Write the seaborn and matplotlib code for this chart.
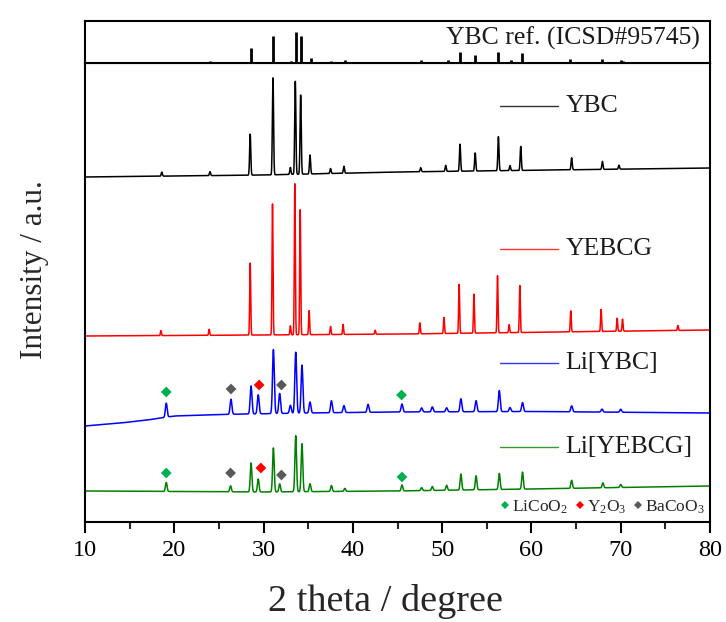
import numpy as np
import pandas as pd
import matplotlib
matplotlib.use("Agg")
import matplotlib.pyplot as plt
from matplotlib.lines import Line2D
from matplotlib.ticker import MultipleLocator
import seaborn as sns

# --- reference stick pattern, YBC (ICSD#95745), relative intensity
ref_pos = [16.5, 18.6, 24.0, 28.55, 31.03, 33.1, 33.62, 34.21, 35.26, 37.56, 39.1, 42.7,
           47.6, 50.6, 52.0, 53.65, 56.3, 57.7, 58.9, 64.3, 66.2, 67.9, 70.0, 70.3, 76.4, 78.9]
ref_int = [0.02, 0.03, 0.04, 0.35, 0.64, 0.05, 0.73, 0.64, 0.12, 0.04, 0.06, 0.03,
           0.06, 0.08, 0.26, 0.18, 0.27, 0.06, 0.24, 0.10, 0.03, 0.10, 0.06, 0.04, 0.03, 0.03]

# --- measured patterns (peak positions / heights in a.u., baselines with stacking offset)
ybc_pos = [18.6, 24.0, 28.5, 31.05, 33.0, 33.55, 34.15, 35.2, 37.5, 39.0, 47.6, 50.4,
           52.0, 53.7, 56.3, 57.6, 58.8, 64.5, 67.95, 69.8]
ybc_int = [4, 4, 41, 98, 7, 94, 80, 19, 5, 7, 4, 6, 27, 18, 34, 5, 24, 12, 8, 4]
ybc_base_x = [10, 30, 45, 80]
ybc_base_y = [345, 347, 350, 354]

yebcg_pos = [18.5, 23.9, 28.5, 31.0, 33.0, 33.5, 34.1, 35.1, 37.5, 38.9, 42.5, 47.5,
             50.2, 51.9, 53.56, 56.2, 57.5, 58.7, 64.4, 67.8, 69.6, 70.2, 76.4]
yebcg_int = [5, 6, 72, 131, 9, 151, 125, 24, 8, 10, 4, 11, 16, 49, 39, 57, 8, 47, 21, 22, 13, 12, 5]
yebcg_base_x = [10, 30, 46, 80]
yebcg_base_y = [186, 187, 188, 192]

liybc_pos = [19.1, 26.35, 28.6, 29.4, 31.1, 31.8, 33.0, 33.6, 34.3, 35.2, 37.6, 39.0, 41.7,
             45.5, 47.7, 48.9, 50.5, 52.1, 53.8, 56.4, 57.6, 59.0, 64.5, 67.9, 70.0]
liybc_int = [14, 15, 28, 19, 64, 20, 8, 61, 48, 11, 12, 7, 8, 8, 4, 5, 4, 13, 11, 21, 4, 9, 6, 3, 3]
liybc_base_x = [10, 14, 17, 20, 25, 35, 45, 60, 80]
liybc_base_y = [96, 99, 102, 106, 107.5, 109, 110, 110.5, 109]

liyebcg_pos = [19.1, 26.3, 28.6, 29.4, 31.1, 31.8, 33.6, 34.3, 35.2, 37.6, 39.1, 45.5,
               47.7, 48.9, 50.5, 52.1, 53.8, 56.4, 59.0, 64.5, 68.0, 70.0]
liyebcg_int = [9, 6, 29, 13, 44, 8, 56, 48, 8, 6, 3, 6, 3, 4, 5, 16, 14, 16, 17, 8, 5, 3]
liyebcg_base_x = [10, 30, 45, 60, 80]
liyebcg_base_y = [31, 30, 31, 33, 36]

samples = ["YBC", "YEBCG", "Li[YBC]", "Li[YEBCG]"]
sample_colors = ["#000000", "#FF0000", "#0000FF", "#008000"]
peak_width = [0.065, 0.055, 0.1, 0.09]

# --- impurity phase markers on the lithiated samples
marker_phase = ["LiCoO$_2$", "BaCoO$_3$", "Y$_2$O$_3$", "BaCoO$_3$", "LiCoO$_2$"] * 2
marker_pos = [19.1, 26.35, 29.5, 32.0, 45.45, 19.1, 26.3, 29.7, 32.0, 45.5]
marker_y = [130, 133, 137, 137, 127, 49, 49, 54, 47, 45]
phases = ["LiCoO$_2$", "Y$_2$O$_3$", "BaCoO$_3$"]
phase_colors = ["#00B050", "#FF0000", "#595959"]


def pattern(tt, pos, inten, bx, by, w):
    y = np.interp(tt, bx, by)
    for p, h in zip(pos, inten):
        y = y + h * np.exp(-0.5 * ((tt - p) / w) ** 2)
    return y


tt = np.arange(10, 80.001, 0.02)
rows = []
for name, pos, inten, bx, by, w in zip(
        samples,
        [ybc_pos, yebcg_pos, liybc_pos, liyebcg_pos],
        [ybc_int, yebcg_int, liybc_int, liyebcg_int],
        [ybc_base_x, yebcg_base_x, liybc_base_x, liyebcg_base_x],
        [ybc_base_y, yebcg_base_y, liybc_base_y, liyebcg_base_y],
        peak_width):
    rows.append(pd.DataFrame({"two_theta": tt, "intensity": pattern(tt, pos, inten, bx, by, w),
                              "sample": name}))
df = pd.concat(rows, ignore_index=True)
mk = pd.DataFrame({"two_theta": marker_pos, "y": marker_y, "phase": marker_phase})

sns.set_theme(style="ticks")
plt.rcParams["font.family"] = ["Liberation Serif", "DejaVu Serif"]
plt.rcParams["mathtext.fontset"] = "custom"
plt.rcParams["mathtext.rm"] = "Liberation Serif"
plt.rcParams["mathtext.it"] = "Liberation Serif:italic"
plt.rcParams["axes.linewidth"] = 1.5
plt.rcParams["axes.edgecolor"] = "black"

fig = plt.figure(figsize=(7.26, 6.22), dpi=100)
ax = fig.add_axes([0.1171, 0.1608, 0.8609, 0.7379])
ax_ref = fig.add_axes([0.1171, 0.8987, 0.8609, 0.0675])

# reference sticks
ax_ref.vlines(ref_pos, 0, ref_int, color="black", lw=2)
ax_ref.set_xlim(10, 80)
ax_ref.set_ylim(0, 1)
ax_ref.set_xticks([])
ax_ref.set_yticks([])
ax_ref.text(0.984, 0.58, "YBC ref. (ICSD#95745)", transform=ax_ref.transAxes,
            ha="right", va="center", fontsize=18.5, color="#1a1a1a")

# patterns
sns.lineplot(data=df, x="two_theta", y="intensity", hue="sample", hue_order=samples,
             palette=sample_colors, estimator=None, sort=False, lw=1.1, legend=False, ax=ax)
sns.scatterplot(data=mk, x="two_theta", y="y", hue="phase", hue_order=phases,
                palette=phase_colors, marker="D", s=30, linewidth=0, legend=False, ax=ax)

# labels beside each pattern
label_y = [416, 272.7, 159.3, 74.7]
for name, col, ly in zip(samples, sample_colors, label_y):
    ax.plot([56.5, 63.0], [ly, ly], color=col, lw=1.0, alpha=0.8)
    ax.text(63.8, ly, name, ha="left", va="center", fontsize=18.5, color="#1a1a1a")

handles = [Line2D([], [], marker="D", ls="none", color=c, markersize=4.4, markeredgewidth=0)
           for c in phase_colors]
ax.legend(handles, phases, loc="center right", bbox_to_anchor=(0.992, 0.033), ncol=3,
          frameon=False, fontsize=12.5, handlelength=0.7, handletextpad=0.05,
          columnspacing=0.35, borderpad=0, borderaxespad=0)

ax.set_xlim(10, 80)
ax.set_ylim(0, 459)
ax.set_yticks([])
ax.xaxis.set_major_locator(MultipleLocator(10))
ax.xaxis.set_minor_locator(MultipleLocator(5))
ax.tick_params(axis="x", which="major", direction="out", length=8, width=1.5,
               labelsize=17.5, pad=5, colors="black")
ax.tick_params(axis="x", which="minor", direction="out", length=5, width=1.5)
ax.set_xlabel("2 theta / degree", fontsize=27.5, labelpad=16)
ax.xaxis.set_label_coords(0.48, -0.135)
ax.set_ylabel("")
fig.text(0.047, 1 - 270 / 622, "Intensity / a.u.", rotation=90, ha="center", va="center",
         fontsize=22.5)

fig.savefig("out.png", dpi=100)
